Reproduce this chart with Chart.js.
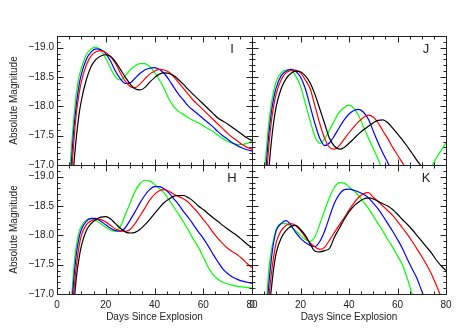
<!DOCTYPE html>
<html>
<head>
<meta charset="utf-8">
<script src="https://cdn.jsdelivr.net/npm/chart.js@4.4.1/dist/chart.umd.min.js"></script>
<style>
  body { margin: 0; background: #fff; }
  #wrap { position: relative; width: 463px; height: 331px; }
  #wrap canvas { position: absolute; left: 0; top: 0; }
</style>
</head>
<body>
<div id="wrap">
  <canvas id="panelI" width="463" height="331"></canvas>
  <canvas id="panelJ" width="463" height="331"></canvas>
  <canvas id="panelH" width="463" height="331"></canvas>
  <canvas id="panelK" width="463" height="331"></canvas>
</div>
<script>
// days since explosion (shared by all curves)
const days = [4, 5, 6, 7, 8, 9, 10,
  12, 14, 16, 18, 20, 22, 24, 26, 28, 30,
  32, 34, 36, 38, 40, 42, 44, 46, 48, 50,
  52, 54, 56, 58, 60, 62, 64, 66, 68, 70,
  72, 74, 76, 78, 80];

const xTicks = [0, 20, 40, 60, 80];
const yTicks = [-19.0, -18.5, -18.0, -17.5, -17.0];

// panel I
const iBlack = [-15.0, -15.7, -16.5, -17.05, -17.5, -17.85, -18.1,
  -18.45, -18.68, -18.8, -18.86, -18.88, -18.85, -18.76, -18.63, -18.5, -18.38,
  -18.3, -18.28, -18.32, -18.41, -18.49, -18.55, -18.57, -18.56, -18.52, -18.45,
  -18.37, -18.28, -18.2, -18.12, -18.04, -17.96, -17.88, -17.8, -17.75, -17.7,
  -17.64, -17.58, -17.52, -17.46, -17.42];
const iRed = [-15.3, -16.0, -16.85, -17.45, -17.9, -18.2, -18.42,
  -18.7, -18.86, -18.93, -18.95, -18.92, -18.85, -18.73, -18.57, -18.43, -18.34,
  -18.32, -18.38, -18.47, -18.55, -18.6, -18.63, -18.62, -18.58, -18.5, -18.4,
  -18.3, -18.2, -18.1, -18.02, -17.94, -17.86, -17.78, -17.7, -17.62, -17.54,
  -17.47, -17.41, -17.35, -17.3, -17.27];
const iBlue = [-15.5, -16.3, -17.1, -17.65, -18.05, -18.35, -18.55,
  -18.8, -18.93, -18.98, -18.97, -18.9, -18.77, -18.6, -18.47, -18.39, -18.4,
  -18.48, -18.56, -18.62, -18.65, -18.66, -18.63, -18.56, -18.45, -18.32, -18.2,
  -18.1, -18.0, -17.93, -17.86, -17.79, -17.72, -17.65, -17.57, -17.5, -17.44,
  -17.38, -17.33, -17.29, -17.26, -17.24];
const iGreen = [-15.8, -16.7, -17.35, -17.85, -18.25, -18.5, -18.65,
  -18.88, -18.98, -19.01, -18.95, -18.82, -18.65, -18.5, -18.45, -18.52, -18.62,
  -18.69, -18.73, -18.73, -18.68, -18.58, -18.45, -18.3, -18.12, -17.99, -17.91,
  -17.86, -17.8, -17.76, -17.72, -17.67, -17.62, -17.57, -17.51, -17.45, -17.4,
  -17.37, -17.35, -17.35, -17.37, -17.4];

// panel J
const jBlack = [-14.8, -15.6, -16.4, -16.95, -17.4, -17.75, -18.0,
  -18.3, -18.47, -18.56, -18.6, -18.59, -18.52, -18.4, -18.2, -17.95, -17.7,
  -17.45, -17.32, -17.27, -17.3, -17.37, -17.45, -17.53, -17.6, -17.66, -17.72,
  -17.76, -17.77, -17.72, -17.63, -17.53, -17.43, -17.32, -17.2, -17.08, -16.97,
  -16.85, -16.7, -16.55, -16.45, -16.4];
const jRed = [-15.1, -16.0, -16.8, -17.35, -17.75, -18.02, -18.22,
  -18.45, -18.57, -18.61, -18.62, -18.57, -18.45, -18.3, -18.0, -17.7, -17.45,
  -17.3, -17.27, -17.33, -17.44, -17.55, -17.65, -17.74, -17.81, -17.85, -17.82,
  -17.72, -17.58, -17.45, -17.3, -17.17, -17.04, -16.9, -16.75, -16.6, -16.5,
  -16.4, -16.4, -16.4, -16.4, -16.4];
const jBlue = [-15.3, -16.3, -17.05, -17.55, -17.9, -18.15, -18.32,
  -18.52, -18.6, -18.63, -18.6, -18.5, -18.3, -18.0, -17.7, -17.45, -17.33,
  -17.38, -17.5, -17.64, -17.77, -17.87, -17.93, -17.95, -17.9, -17.78, -17.58,
  -17.38, -17.2, -17.04, -16.88, -16.7, -16.5, -16.4, -16.3, -16.3, -16.3,
  -16.3, -16.3, -16.3, -16.3, -16.3];
const jGreen = [-15.8, -16.75, -17.3, -17.75, -18.05, -18.27, -18.43,
  -18.57, -18.62, -18.62, -18.52, -18.35, -18.05, -17.75, -17.48, -17.37, -17.45,
  -17.6, -17.76, -17.9, -17.98, -18.02, -17.97, -17.84, -17.65, -17.46, -17.28,
  -17.1, -16.9, -16.7, -16.5, -16.4, -16.35, -16.4, -16.5, -16.6, -16.72,
  -16.86, -16.97, -17.12, -17.25, -17.38];

// panel H
const hBlack = [-14.9, -15.6, -16.3, -16.85, -17.3, -17.6, -17.82,
  -18.08, -18.2, -18.27, -18.31, -18.32, -18.28, -18.2, -18.12, -18.06, -18.04,
  -18.05, -18.1, -18.18, -18.27, -18.37, -18.47, -18.56, -18.62, -18.67, -18.68,
  -18.68, -18.64, -18.58, -18.5, -18.44, -18.37, -18.3, -18.24, -18.17, -18.11,
  -18.05, -17.99, -17.92, -17.85, -17.79];
const hRed = [-15.1, -15.9, -16.6, -17.1, -17.5, -17.8, -18.0,
  -18.18, -18.25, -18.27, -18.27, -18.23, -18.17, -18.11, -18.08, -18.07, -18.1,
  -18.2, -18.33, -18.46, -18.6, -18.7, -18.76, -18.78, -18.75, -18.7, -18.66,
  -18.62, -18.56, -18.47, -18.38, -18.27, -18.17, -18.05, -17.95, -17.86, -17.78,
  -17.72, -17.67, -17.6, -17.52, -17.45];
const hBlue = [-15.3, -16.2, -16.8, -17.3, -17.7, -17.95, -18.1,
  -18.24, -18.29, -18.29, -18.24, -18.18, -18.12, -18.08, -18.07, -18.13, -18.26,
  -18.4, -18.55, -18.68, -18.78, -18.83, -18.83, -18.79, -18.72, -18.62, -18.52,
  -18.4, -18.3, -18.18, -18.06, -17.95, -17.82, -17.68, -17.55, -17.43, -17.35,
  -17.29, -17.25, -17.22, -17.2, -17.18];
const hGreen = [-15.5, -16.5, -16.95, -17.5, -17.85, -18.05, -18.16,
  -18.26, -18.28, -18.25, -18.2, -18.14, -18.09, -18.07, -18.15, -18.35, -18.55,
  -18.75, -18.88, -18.94, -18.93, -18.87, -18.8, -18.72, -18.6, -18.48, -18.35,
  -18.22, -18.08, -17.93, -17.8, -17.63, -17.46, -17.33, -17.25, -17.2, -17.17,
  -17.15, -17.13, -17.12, -17.11, -17.1];

// panel K
const kBlack = [-14.9, -15.5, -16.2, -16.7, -17.1, -17.45, -17.7,
  -17.95, -18.08, -18.15, -18.17, -18.1, -18.0, -17.85, -17.73, -17.72, -17.74,
  -17.78, -17.97, -18.12, -18.27, -18.4, -18.5, -18.57, -18.62, -18.64, -18.62,
  -18.58, -18.54, -18.5, -18.44, -18.36, -18.27, -18.19, -18.1, -18.0, -17.9,
  -17.8, -17.7, -17.58, -17.48, -17.4];
const kRed = [-15.1, -15.8, -16.4, -16.95, -17.35, -17.65, -17.88,
  -18.08, -18.17, -18.2, -18.17, -18.08, -17.97, -17.87, -17.8, -17.76, -17.8,
  -17.92, -18.05, -18.18, -18.3, -18.43, -18.55, -18.65, -18.71, -18.73, -18.65,
  -18.58, -18.5, -18.42, -18.34, -18.24, -18.13, -18.02, -17.9, -17.77, -17.64,
  -17.5, -17.34, -17.15, -16.95, -16.75];
const kBlue = [-15.3, -16.1, -16.7, -17.2, -17.6, -17.9, -18.08,
  -18.2, -18.25, -18.18, -18.05, -17.95, -17.88, -17.83, -17.81, -17.9, -18.08,
  -18.32, -18.55, -18.7, -18.78, -18.79, -18.77, -18.74, -18.7, -18.64, -18.55,
  -18.45, -18.33, -18.2, -18.07, -17.93, -17.78, -17.6, -17.43, -17.27, -17.05,
  -16.85, -16.6, -16.4, -16.3, -16.3];
const kGreen = [-15.5, -16.4, -16.9, -17.45, -17.75, -17.95, -18.1,
  -18.2, -18.2, -18.15, -18.08, -18.0, -17.93, -17.9, -17.98, -18.2, -18.43,
  -18.65, -18.82, -18.9, -18.89, -18.83, -18.76, -18.68, -18.57, -18.46, -18.33,
  -18.2, -18.07, -17.93, -17.8, -17.65, -17.5, -17.27, -17.0, -16.75, -16.5,
  -16.3, -16.3, -16.3, -16.3, -16.3];

const lineColors = ['#000000', '#ff0000', '#0000ff', '#00ff00'];
const font = "'Liberation Sans', Arial, sans-serif";
const W = 463, H = 331;

// frame with inward ticks on all four sides + panel letter
const framePlugin = {
  id: 'frame',
  afterDraw(chart, args, opts) {
    const { ctx, chartArea: a, scales: { x, y } } = chart;
    const L = Math.round(a.left) + 0.5, R = Math.round(a.right) + 0.5;
    const T = Math.round(a.top) + 0.5, B = Math.round(a.bottom) + 0.5;
    ctx.save();
    ctx.strokeStyle = '#222';
    ctx.lineWidth = 1;
    ctx.beginPath();
    ctx.rect(L, T, R - L, B - T);
    for (let d = 0; d <= 80; d += 5) {
      const px = Math.round(x.getPixelForValue(d)) + 0.5;
      const len = d % 20 === 0 ? 6 : 3;
      ctx.moveTo(px, T); ctx.lineTo(px, T + len);
      ctx.moveTo(px, B); ctx.lineTo(px, B - len);
    }
    for (let i = 170; i <= 192; i++) {
      const py = Math.round(y.getPixelForValue(-i / 10)) + 0.5;
      const len = i % 5 === 0 ? 6 : 3;
      ctx.moveTo(L, py); ctx.lineTo(L + len, py);
      ctx.moveTo(R, py); ctx.lineTo(R - len, py);
    }
    ctx.stroke();
    ctx.fillStyle = '#222';
    ctx.font = '13px ' + font;
    ctx.textAlign = 'center';
    ctx.textBaseline = 'middle';
    ctx.fillText(opts.letter, a.right - 20, a.top + 13);
    ctx.restore();
  }
};

function makePanel(id, letter, series, area, showY, showX) {
  const names = ['black', 'red', 'blue', 'green'];
  new Chart(document.getElementById(id), {
    type: 'line',
    data: {
      datasets: series.map((vals, k) => ({
        label: names[k],
        data: days.map((d, i) => ({ x: d, y: vals[i] })),
        borderColor: lineColors[k],
        borderWidth: 1.2,
        pointRadius: 0,
        cubicInterpolationMode: 'monotone',
        fill: false
      }))
    },
    options: {
      responsive: false,
      animation: false,
      devicePixelRatio: 1,
      events: [],
      layout: {
        padding: {
          left: showY ? 0 : area.l,
          right: W - area.r,
          top: area.t,
          bottom: showX ? 0 : H - area.b
        }
      },
      plugins: {
        legend: { display: false },
        tooltip: { enabled: false },
        frame: { letter: letter }
      },
      scales: {
        x: {
          type: 'linear',
          min: 0, max: 80,
          display: showX,
          grid: { display: false, drawTicks: false },
          border: { display: false },
          afterBuildTicks: s => { s.ticks = xTicks.map(v => ({ value: v })); },
          afterFit: s => { s.height = showX ? H - area.b : 0; },
          ticks: {
            color: '#222', padding: 5, maxRotation: 0,
            font: { family: font, size: 10 },
            callback: v => String(v)
          },
          title: {
            display: true, text: 'Days Since Explosion', color: '#222',
            font: { family: font, size: 10 },
            padding: { top: 0, bottom: 8 }
          }
        },
        y: {
          type: 'linear',
          reverse: true,
          min: -19.2, max: -17,
          display: showY,
          grid: { display: false, drawTicks: false },
          border: { display: false },
          afterBuildTicks: s => { s.ticks = yTicks.map(v => ({ value: v })); },
          afterFit: s => { s.width = showY ? area.l : 0; },
          ticks: {
            color: '#222', padding: 3,
            font: { family: font, size: 10 },
            callback: v => v.toFixed(1).replace('-', '\u2212')
          },
          title: {
            display: true, text: 'Absolute Magnitude', color: '#222',
            font: { family: font, size: 10 },
            padding: { top: 8, bottom: 0 }
          }
        }
      }
    },
    plugins: [framePlugin]
  });
}

makePanel('panelI', 'I', [iBlack, iRed, iBlue, iGreen], { l: 57, t: 36, r: 252, b: 165 }, true, false);
makePanel('panelJ', 'J', [jBlack, jRed, jBlue, jGreen], { l: 252, t: 36, r: 446, b: 165 }, false, false);
makePanel('panelH', 'H', [hBlack, hRed, hBlue, hGreen], { l: 57, t: 165, r: 252, b: 294 }, true, true);
makePanel('panelK', 'K', [kBlack, kRed, kBlue, kGreen], { l: 252, t: 165, r: 446, b: 294 }, false, true);
</script>
</body>
</html>
